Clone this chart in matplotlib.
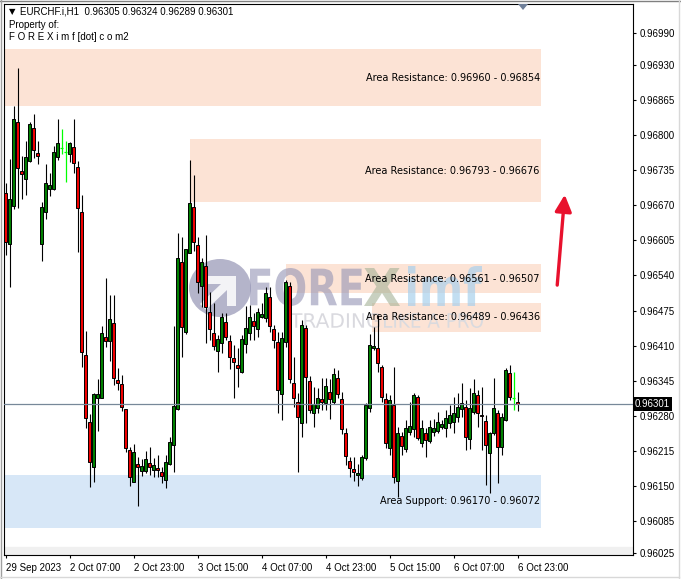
import matplotlib
matplotlib.use("Agg")
import matplotlib.pyplot as plt
from matplotlib.patches import Rectangle, PathPatch, Ellipse, Polygon
from matplotlib.textpath import TextPath
from matplotlib.font_manager import FontProperties
from matplotlib.transforms import Affine2D, blended_transform_factory

W, H = 681, 579
plt.rcParams['font.family'] = ['Liberation Sans', 'DejaVu Sans']

# EURCHF.i H1, one bar per hour from 29 Sep 15:00 to 6 Oct 23:00
opens = [
    0.96693, 0.96598, 0.96669, 0.96825, 0.96734, 0.96719, 0.96752, 0.96814, 0.96767, 0.96598,
    0.96658, 0.96700, 0.96700, 0.96760, 0.96777, 0.96769, 0.96765, 0.96778, 0.96741, 0.96658,
    0.96392, 0.96268, 0.96184, 0.96313, 0.96312, 0.96426, 0.96418, 0.96452, 0.96346, 0.96339,
    0.96292, 0.96216, 0.96157, 0.96190, 0.96177, 0.96177, 0.96192, 0.96179, 0.96183, 0.96175,
    0.96160, 0.96190, 0.96225, 0.96292, 0.96565, 0.96435, 0.96582, 0.96667, 0.96597, 0.96520,
    0.96557, 0.96472, 0.96433, 0.96400, 0.96415, 0.96454, 0.96418, 0.96387, 0.96374, 0.96361,
    0.96413, 0.96433, 0.96455, 0.96441, 0.96463, 0.96461, 0.96500, 0.96441, 0.96416, 0.96320,
    0.96416, 0.96520, 0.96340, 0.96305, 0.96266, 0.96442, 0.96344, 0.96285, 0.96294, 0.96311,
    0.96303, 0.96324, 0.96305, 0.96350, 0.96311, 0.96248, 0.96196, 0.96181, 0.96170, 0.96164,
    0.96201, 0.96294, 0.96405, 0.96405, 0.96370, 0.96311, 0.96220, 0.96300, 0.96158, 0.96242,
    0.96218, 0.96249, 0.96255, 0.96314, 0.96229, 0.96248, 0.96233, 0.96249, 0.96251, 0.96259,
    0.96257, 0.96266, 0.96268, 0.96277, 0.96292, 0.96296, 0.96236, 0.96287, 0.96318, 0.96281,
    0.96270, 0.96210, 0.96248, 0.96285, 0.96222, 0.96272, 0.96359, 0.96313, 0.96305]
highs = [
    0.96712, 0.96756, 0.96854, 0.96925, 0.96762, 0.96790, 0.96825, 0.96840, 0.96790, 0.96676,
    0.96747, 0.96730, 0.96780, 0.96830, 0.96812, 0.96790, 0.96788, 0.96830, 0.96752, 0.96689,
    0.96437, 0.96283, 0.96321, 0.96348, 0.96446, 0.96535, 0.96504, 0.96504, 0.96368, 0.96355,
    0.96293, 0.96222, 0.96227, 0.96203, 0.96199, 0.96214, 0.96222, 0.96201, 0.96207, 0.96184,
    0.96207, 0.96240, 0.96446, 0.96619, 0.96611, 0.96590, 0.96754, 0.96726, 0.96611, 0.96572,
    0.96615, 0.96509, 0.96489, 0.96429, 0.96470, 0.96470, 0.96429, 0.96411, 0.96405, 0.96429,
    0.96483, 0.96485, 0.96470, 0.96480, 0.96489, 0.96519, 0.96519, 0.96448, 0.96435, 0.96435,
    0.96532, 0.96528, 0.96389, 0.96322, 0.96457, 0.96448, 0.96353, 0.96333, 0.96331, 0.96350,
    0.96350, 0.96348, 0.96368, 0.96365, 0.96324, 0.96257, 0.96203, 0.96203, 0.96190, 0.96207,
    0.96303, 0.96431, 0.96444, 0.96467, 0.96374, 0.96322, 0.96318, 0.96370, 0.96259, 0.96249,
    0.96272, 0.96305, 0.96322, 0.96318, 0.96272, 0.96257, 0.96272, 0.96274, 0.96287, 0.96272,
    0.96290, 0.96300, 0.96314, 0.96322, 0.96340, 0.96309, 0.96331, 0.96348, 0.96327, 0.96333,
    0.96281, 0.96250, 0.96350, 0.96290, 0.96285, 0.96368, 0.96374, 0.96361, 0.96324]
lows = [
    0.96578, 0.96519, 0.96663, 0.96665, 0.96682, 0.96689, 0.96750, 0.96758, 0.96747, 0.96567,
    0.96645, 0.96687, 0.96699, 0.96754, 0.96765, 0.96713, 0.96750, 0.96730, 0.96583, 0.96370,
    0.96257, 0.96147, 0.96157, 0.96251, 0.96312, 0.96407, 0.96381, 0.96337, 0.96327, 0.96288,
    0.96212, 0.96149, 0.96156, 0.96112, 0.96168, 0.96173, 0.96170, 0.96166, 0.96166, 0.96155,
    0.96145, 0.96188, 0.96175, 0.96291, 0.96389, 0.96431, 0.96581, 0.96585, 0.96507, 0.96481,
    0.96415, 0.96420, 0.96402, 0.96361, 0.96396, 0.96420, 0.96366, 0.96313, 0.96333, 0.96359,
    0.96396, 0.96420, 0.96420, 0.96426, 0.96461, 0.96454, 0.96435, 0.96405, 0.96285, 0.96272,
    0.96407, 0.96340, 0.96296, 0.96175, 0.96240, 0.96266, 0.96285, 0.96259, 0.96285, 0.96290,
    0.96290, 0.96274, 0.96301, 0.96313, 0.96246, 0.96188, 0.96166, 0.96158, 0.96149, 0.96160,
    0.96197, 0.96287, 0.96402, 0.96361, 0.96305, 0.96220, 0.96207, 0.96155, 0.96129, 0.96207,
    0.96212, 0.96244, 0.96240, 0.96235, 0.96222, 0.96203, 0.96229, 0.96242, 0.96248, 0.96255,
    0.96240, 0.96257, 0.96248, 0.96268, 0.96277, 0.96216, 0.96218, 0.96283, 0.96259, 0.96216,
    0.96151, 0.96136, 0.96244, 0.96155, 0.96207, 0.96270, 0.96309, 0.96290, 0.96289]
closes = [
    0.96602, 0.96682, 0.96830, 0.96739, 0.96728, 0.96760, 0.96821, 0.96773, 0.96762, 0.96667,
    0.96712, 0.96708, 0.96769, 0.96786, 0.96777, 0.96769, 0.96786, 0.96749, 0.96665, 0.96398,
    0.96275, 0.96194, 0.96320, 0.96320, 0.96433, 0.96418, 0.96459, 0.96350, 0.96340, 0.96296,
    0.96220, 0.96166, 0.96212, 0.96184, 0.96186, 0.96199, 0.96184, 0.96188, 0.96179, 0.96168,
    0.96194, 0.96231, 0.96298, 0.96572, 0.96444, 0.96589, 0.96674, 0.96602, 0.96528, 0.96565,
    0.96481, 0.96441, 0.96409, 0.96422, 0.96463, 0.96426, 0.96389, 0.96379, 0.96368, 0.96422,
    0.96442, 0.96463, 0.96446, 0.96472, 0.96468, 0.96507, 0.96446, 0.96420, 0.96327, 0.96424,
    0.96528, 0.96348, 0.96313, 0.96277, 0.96448, 0.96352, 0.96290, 0.96301, 0.96313, 0.96305,
    0.96335, 0.96311, 0.96357, 0.96320, 0.96255, 0.96205, 0.96183, 0.96175, 0.96173, 0.96203,
    0.96300, 0.96411, 0.96409, 0.96377, 0.96314, 0.96229, 0.96309, 0.96166, 0.96248, 0.96223,
    0.96257, 0.96261, 0.96318, 0.96238, 0.96257, 0.96235, 0.96259, 0.96257, 0.96268, 0.96264,
    0.96275, 0.96281, 0.96285, 0.96296, 0.96303, 0.96240, 0.96294, 0.96322, 0.96285, 0.96279,
    0.96225, 0.96248, 0.96294, 0.96222, 0.96277, 0.96365, 0.96314, 0.96313, 0.96301]

date_bars = [0, 16, 32, 48, 64, 80, 96, 112, 128]
date_labels = ["29 Sep 2023", "2 Oct 07:00", "2 Oct 23:00", "3 Oct 15:00", "4 Oct 07:00",
               "4 Oct 23:00", "5 Oct 15:00", "6 Oct 07:00", "6 Oct 23:00"]
price_ticks = [0.96990, 0.96930, 0.96865, 0.96800, 0.96735, 0.96670, 0.96605, 0.96540,
               0.96475, 0.96410, 0.96345, 0.96280, 0.96215, 0.96150, 0.96085, 0.96025]

zone_kind = ["Resistance", "Resistance", "Resistance", "Resistance", "Support"]
zone_hi = [0.96960, 0.96793, 0.96561, 0.96489, 0.96170]
zone_lo = [0.96854, 0.96676, 0.96507, 0.96436, 0.96072]
zone_from = [None, 46, 70, 91.6, None]   # first bar of each box (None = left edge)
zone_to = 133.8

symbol = "EURCHF.i,H1"
last_price = closes[-1]

fig = plt.figure(figsize=(W / 100, H / 100), dpi=100)
ax = fig.add_axes([4 / W, (H - 555) / H, 629 / W, 551 / H])
ymin, ymax = 0.960213, 0.970438
xmin, xmax = -0.43, 156.8
ax.set_xlim(xmin, xmax)
ax.set_ylim(ymin, ymax)

# zones
for kind, hi, lo, x0 in zip(zone_kind, zone_hi, zone_lo, zone_from):
    if x0 is None:
        x0 = xmin
    col = '#fce3d5' if kind == "Resistance" else '#d7e7f7'
    ax.add_patch(Rectangle((x0, lo), zone_to - x0, hi - lo, fc=col, ec='none', zorder=1))
    ax.text(zone_to - 0.3, (hi + lo) / 2, f"Area {kind}: {hi:.5f} - {lo:.5f}",
            ha='right', va='center', fontsize=7, family='DejaVu Sans', zorder=6)

ax.axhspan(ymin, 0.960361, color='#f0f0f0', zorder=0.5)


# watermark
def fit_text(s, x0, x1, ytop, ybot, color, alpha, weight='bold'):
    tp = TextPath((0, 0), s, size=1, prop=FontProperties(family='DejaVu Sans', weight=weight))
    ext = tp.get_extents()
    tr = (Affine2D().translate(-ext.x0, -ext.y0)
          .scale((x1 - x0) / ext.width / W, (ybot - ytop) / ext.height / H)
          .translate(x0 / W, 1 - ybot / H) + fig.transFigure)
    ax.add_artist(PathPatch(tp, transform=tr, fc=color, ec='none', alpha=alpha, zorder=1.6))


ax.add_artist(Ellipse((220 / W, 1 - 288 / H), 62 / W, 58 / H, transform=fig.transFigure,
                      fc='#9494b4', ec='none', alpha=0.7, zorder=1.6))
ax.add_artist(Polygon([(203 / W, 1 - 276 / H), (236 / W, 1 - 276 / H), (236 / W, 1 - 306 / H),
                       (227 / W, 1 - 306 / H), (227 / W, 1 - 290 / H), (206 / W, 1 - 310 / H),
                       (200 / W, 1 - 304 / H), (221 / W, 1 - 284 / H), (203 / W, 1 - 284 / H)],
                      closed=True, transform=fig.transFigure, fc='white', ec='none',
                      alpha=0.85, zorder=1.7))
fit_text("FORE", 250, 362, 268, 306, '#9494b4', 0.6)
fit_text("X", 364, 400, 268, 306, '#a4b296', 0.6)
fit_text("imf", 408, 482, 266, 306, '#a9d0ec', 0.7)
fit_text("TRADING ", 290, 380, 313, 328, '#c6c6ce', 0.65, weight='normal')
fit_text("LIKE A PRO", 384, 483, 313, 328, '#c8d6e4', 0.65, weight='normal')

# candles
for i, (o, h, l, c) in enumerate(zip(opens, highs, lows, closes)):
    if o == c:
        ax.vlines(i, l, h, color='#00ff00', lw=0.9, zorder=3)
        ax.hlines(o, i - 0.35, i + 0.35, color='#00ff00', lw=0.9, zorder=3)
        continue
    ax.vlines(i, l, h, color='black', lw=0.8, zorder=3)
    lo, hi = min(o, c), max(o, c)
    ax.add_patch(Rectangle((i - 0.33, lo), 0.66, max(hi - lo, 1.2e-5),
                           fc='#008000' if c > o else '#f00000', ec='black', lw=0.7, zorder=4))

ax.axhline(last_price, color='#778899', lw=0.9, zorder=5)

# up arrow
ax.annotate('', xy=(139.8, 0.96695), xytext=(137.8, 0.96517),
            arrowprops=dict(arrowstyle='-|>,head_length=1.0,head_width=0.5',
                            color='#e8112d', lw=2.4), zorder=7)

# axes styling
for sp in ax.spines.values():
    sp.set_linewidth(0.8)
ax.yaxis.tick_right()
ax.set_yticks(price_ticks)
ax.set_yticklabels([f"{v:.5f}" for v in price_ticks])
ax.set_xticks(date_bars)
ax.set_xticklabels(date_labels, ha='left')
ax.tick_params(axis='y', length=2.5, width=0.8, pad=2, labelsize=7)
ax.tick_params(axis='x', length=2.5, width=0.8, pad=3, labelsize=7)

trans = blended_transform_factory(ax.transAxes, ax.transData)
ax.text(1.003, last_price, f"{last_price:.5f}", transform=trans, ha='left', va='center',
        fontsize=7, color='white', zorder=8,
        bbox=dict(boxstyle='square,pad=0.2', fc='black', ec='none'))

# header
fig.text(9 / W, 1 - 12 / H, "\u25bc", fontsize=6, va='center', family='DejaVu Sans')
fig.text(20 / W, 1 - 12 / H, f"{symbol}  {opens[-1]:.5f} {highs[-1]:.5f} {lows[-1]:.5f} {closes[-1]:.5f}",
         fontsize=7, va='center')
fig.text(9 / W, 1 - 25 / H, "Property of:", fontsize=7, va='center')
fig.text(9 / W, 1 - 37 / H, "F O R E X i m f [dot] c o m2", fontsize=7, va='center')

# chart shift marker and window border
fig.add_artist(Polygon([(518 / W, 1 - 4 / H), (528 / W, 1 - 4 / H), (523 / W, 1 - 10 / H)],
                       closed=True, transform=fig.transFigure, fc='#6f7f99', ec='none', zorder=10))
fig.add_artist(plt.Line2D([0, 1], [1 - 0.5 / H] * 2, transform=fig.transFigure, color='#808080', lw=1))
fig.add_artist(plt.Line2D([0.5 / W] * 2, [0, 1], transform=fig.transFigure, color='#a0a0a0', lw=1))
fig.add_artist(plt.Line2D([678.5 / W] * 2, [0, 1], transform=fig.transFigure, color='#d8d8d8', lw=1))
fig.add_artist(plt.Line2D([0, 678.5 / W], [1 - 577 / H] * 2, transform=fig.transFigure, color='#d8d8d8', lw=1))

fig.savefig("out.png", dpi=100)
